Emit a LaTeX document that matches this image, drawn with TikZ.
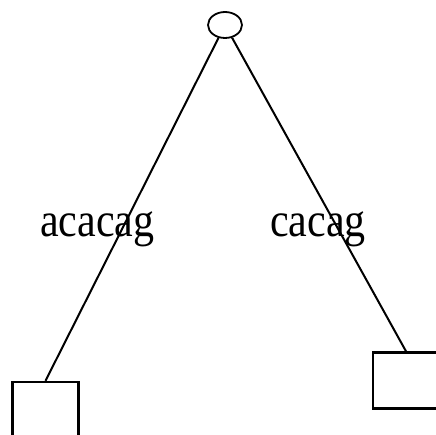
\documentclass[tikz,border=0pt]{standalone}
\usepackage{fontspec}
\setmainfont{Liberation Serif}
\usetikzlibrary{shapes.geometric}

\begin{document}
\begin{tikzpicture}[x=1pt,y=-1pt,
          inner/.style={ellipse,draw,line width=1.8pt,minimum width=34pt,minimum height=26pt,inner sep=0pt},
          leaf/.style={rectangle,draw,line width=2.4pt,minimum width=66pt,minimum height=56pt,inner sep=0pt},
          branch/.style={line width=2pt},
          lbl/.style={anchor=base west,inner sep=0pt,font=\fontsize{42}{50}\selectfont}]
        \useasboundingbox (0,0) rectangle (436,435);
        \node[inner] (root) at (225,25) {};
        \node[leaf] (left) at (45.5,410) {};
        \node[leaf] (right) at (406,380.5) {};
        \draw[branch] (root) -- (left.north);
        \draw[branch] (root) -- (right.north);
        \node[lbl] (lacacag) at (40,237) {\scalebox{1}[1.15]{acacag}};
        \node[lbl] (lcacag) at (270,237) {\scalebox{1}[1.15]{cacag}};
      \end{tikzpicture}
\end{document}
